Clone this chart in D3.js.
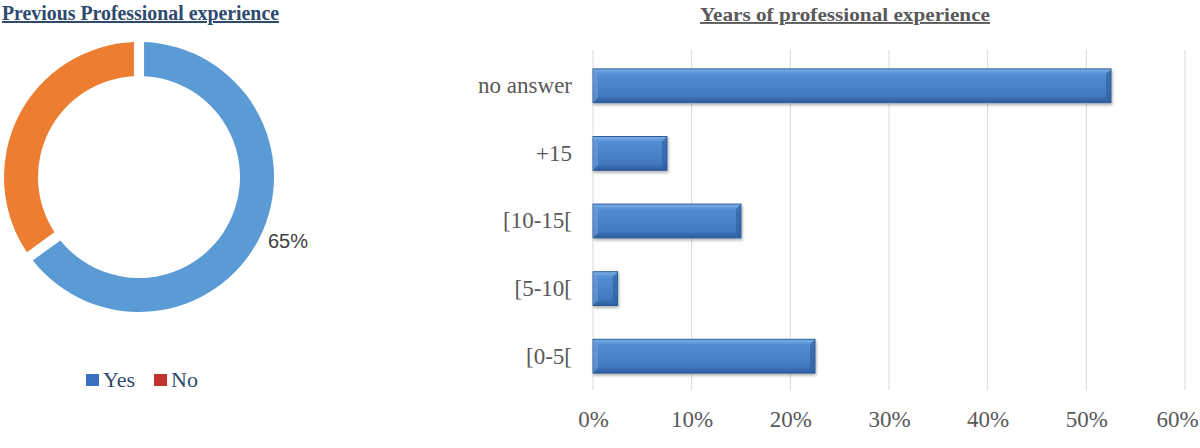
<!DOCTYPE html>
<html><head><meta charset="utf-8">
<script src="https://cdn.jsdelivr.net/npm/d3@7"></script>
<style>body{margin:0;background:#fff;}svg{display:block;}</style>
</head><body>
<svg id="c" width="1200" height="448"></svg>
<script>
// Donut data
const pieCategories = ["Yes", "No"];
const pieValues = [65, 35];
const pieLabels = ["65%", ""];
// Bar data
const barCategories = ["no answer", "+15", "[10-15[", "[5-10[", "[0-5["];
const barValues = [0.525, 0.075, 0.15, 0.025, 0.225];
const xTicks = [0, 0.1, 0.2, 0.3, 0.4, 0.5, 0.6];

const svg = d3.select("#c");
const serif = "'Liberation Serif','Times New Roman',serif";
const sans = "'Liberation Sans',Arial,sans-serif";

// defs
const defs = svg.append("defs");
const g1 = defs.append("linearGradient").attr("id","barGrad").attr("x1",0).attr("y1",0).attr("x2",0).attr("y2",1);
g1.append("stop").attr("offset","0%").attr("stop-color","#7fb2ea");
g1.append("stop").attr("offset","16%").attr("stop-color","#538dd2");
g1.append("stop").attr("offset","80%").attr("stop-color","#4279c0");
g1.append("stop").attr("offset","100%").attr("stop-color","#2b5c98");
const f = defs.append("filter").attr("id","shadow").attr("x","-10%").attr("y","-20%").attr("width","120%").attr("height","160%");
f.append("feDropShadow").attr("dx",1).attr("dy",2).attr("stdDeviation",1.5).attr("flood-color","#000").attr("flood-opacity",0.3);

// ---------- Donut ----------
const cx = 139, cy = 177, rOut = 135, rIn = 101;
const pie = d3.pie().sort(null).value(d => d)(pieValues);
const arc = d3.arc().innerRadius(rIn).outerRadius(rOut).padAngle(0.06);
const pieColors = ["#5b9bd5", "#ed7d31"];
const pg = svg.append("g").attr("transform", `translate(${cx},${cy})`);
pg.selectAll("path").data(pie).join("path")
  .attr("d", arc).attr("fill", (d,i) => pieColors[i]);
pg.selectAll("text.lbl").data(pie).join("text").attr("class","lbl")
  .attr("x", 129).attr("y", 71)
  .attr("font-family", sans).attr("font-size", 20).attr("fill", "#404040")
  .text((d,i) => pieLabels[i]);

// left title
svg.append("text").attr("x", 279).attr("y", 20).attr("text-anchor","end")
  .attr("font-family", serif).attr("font-size", 20).attr("font-weight","bold")
  .attr("fill", "#2e4a6e").attr("text-decoration","underline")
  .attr("textLength", 277).attr("lengthAdjust","spacingAndGlyphs")
  .text("Previous Professional experience");

// legend
const legColors = ["#3b6fbf", "#c0342f"];
const legX = [86, 154];
const lg = svg.append("g");
pieCategories.forEach((c, i) => {
  lg.append("rect").attr("x", legX[i]).attr("y", 374).attr("width", 13).attr("height", 12).attr("fill", legColors[i]);
  lg.append("text").attr("x", legX[i] + 17).attr("y", 387)
    .attr("font-family", serif).attr("font-size", 22).attr("fill", "#2e4a6e").text(c);
});

// ---------- Bars ----------
const x = d3.scaleLinear().domain([0, 0.6]).range([593, 1185]);
const y = d3.scaleBand().domain(barCategories).range([52, 390]).paddingInner(0.5).paddingOuter(0.25);

svg.append("g").selectAll("line").data(xTicks).join("line")
  .attr("x1", d => x(d)).attr("x2", d => x(d)).attr("y1", 50).attr("y2", 390)
  .attr("stroke", "#d9d9d9").attr("stroke-width", 1);

const xAxis = svg.append("g").attr("transform", "translate(0,390)")
  .call(d3.axisBottom(x).tickValues(xTicks).tickFormat(d3.format(".0%")).tickSize(0).tickPadding(21));
xAxis.select(".domain").remove();
xAxis.selectAll("text").attr("font-family", serif).attr("font-size", 23).attr("fill", "#595959")
  .attr("dx", d => d === 0.6 ? -8 : 0);

const yAxis = svg.append("g").attr("transform", "translate(572,0)")
  .call(d3.axisLeft(y).tickSize(0).tickPadding(0));
yAxis.select(".domain").remove();
yAxis.selectAll("text").attr("font-family", serif).attr("font-size", 23).attr("fill", "#595959");

const bars = svg.append("g").selectAll("g").data(barValues).join("g");
bars.append("rect")
  .attr("x", x(0)).attr("y", (d,i) => y(barCategories[i]))
  .attr("width", d => x(d) - x(0)).attr("height", y.bandwidth())
  .attr("fill", "url(#barGrad)").attr("stroke", "#2c5d9b").attr("stroke-width", 1)
  .attr("filter", "url(#shadow)");
// bevel edges
bars.append("path")
  .attr("d", (d,i) => {
    const x0 = x(0), y0 = y(barCategories[i]), h = y.bandwidth(), b = 5;
    return `M${x0},${y0} L${x0+b},${y0+b} L${x0+b},${y0+h-b} L${x0},${y0+h} Z`;
  }).attr("fill", "#6a9fdc").attr("opacity", 0.6);
bars.append("path")
  .attr("d", (d,i) => {
    const x1 = x(d), y0 = y(barCategories[i]), h = y.bandwidth(), b = 5;
    return `M${x1},${y0} L${x1-b},${y0+b} L${x1-b},${y0+h-b} L${x1},${y0+h} Z`;
  }).attr("fill", "#2c5d9b").attr("opacity", 0.6);

svg.append("text").attr("x", 845).attr("y", 21).attr("text-anchor","middle")
  .attr("font-family", serif).attr("font-size", 19).attr("font-weight","bold")
  .attr("fill", "#595959").attr("text-decoration","underline")
  .attr("textLength", 290).attr("lengthAdjust","spacingAndGlyphs")
  .text("Years of professional experience");
</script>
</body></html>
